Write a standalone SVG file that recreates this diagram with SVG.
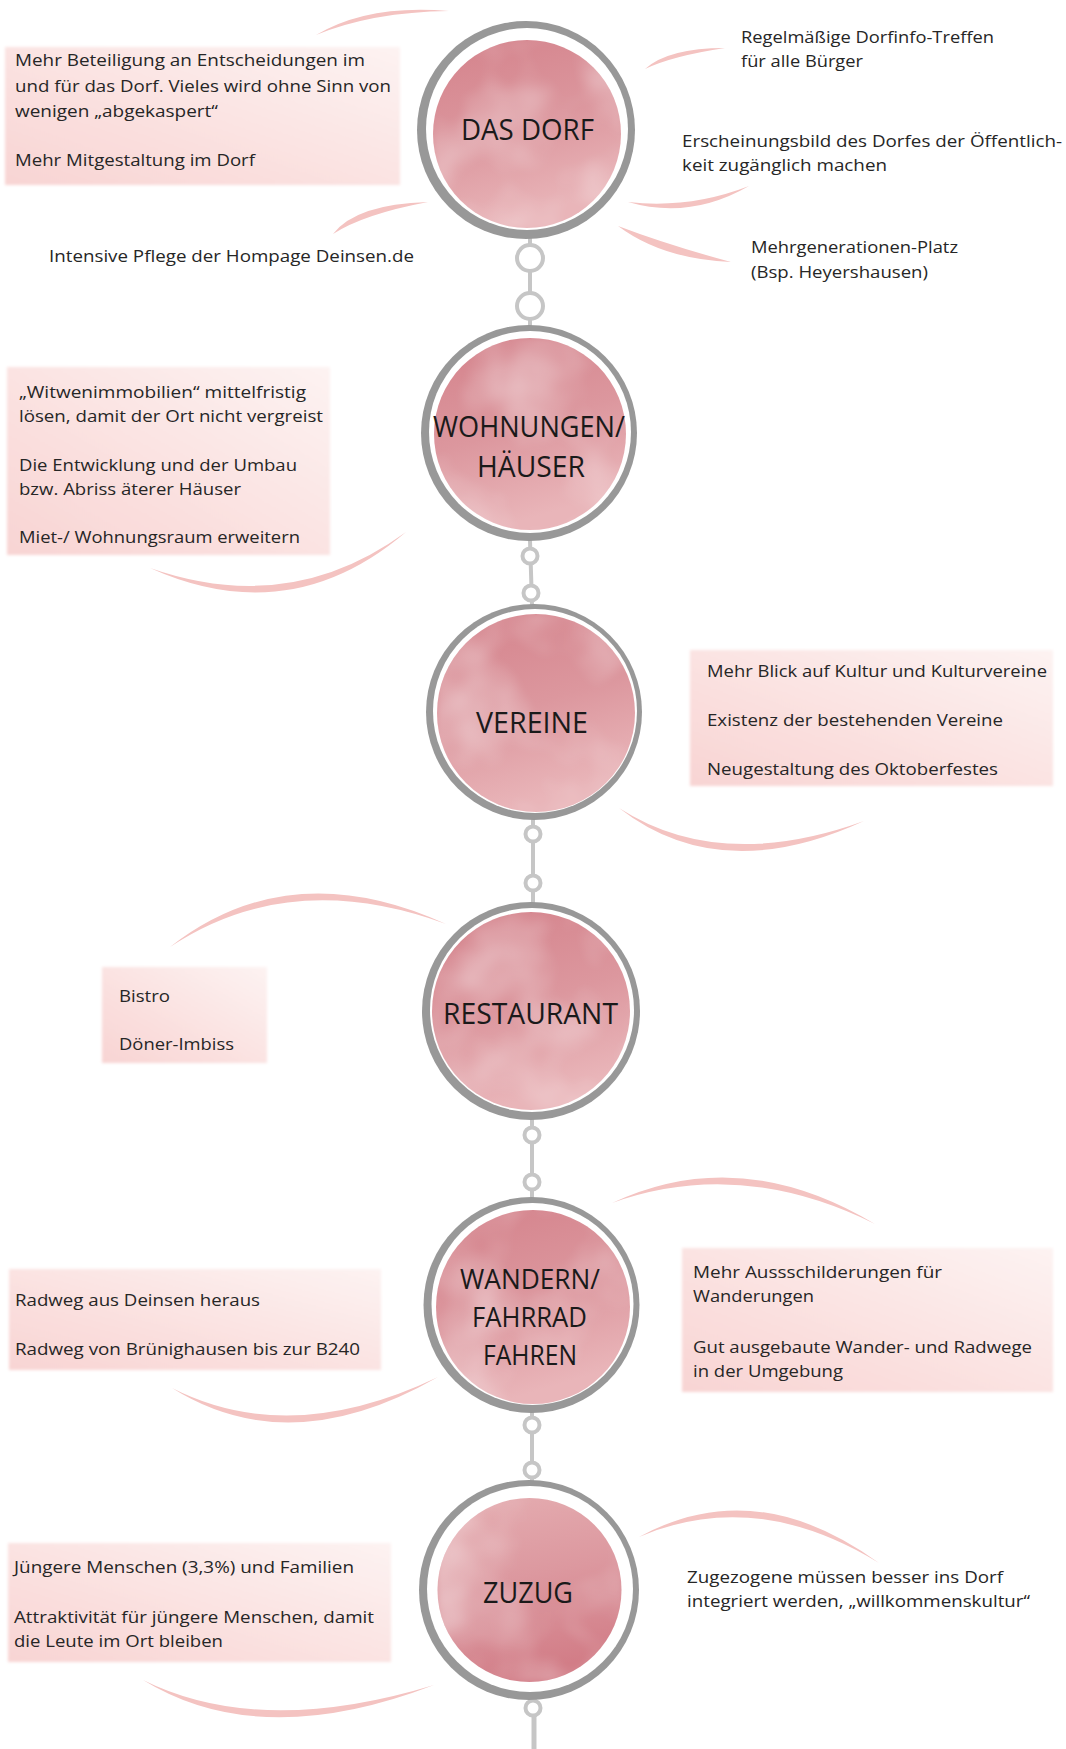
<svg xmlns="http://www.w3.org/2000/svg" width="1066" height="1749" viewBox="0 0 1066 1749">
<defs>
<style>
.b{font-family:"Open Sans","Noto Sans",sans-serif;font-size:17px;fill:#262626}
.t{font-family:"Open Sans","Noto Sans",sans-serif;font-size:29px;font-weight:500;fill:#1a1a1a;text-anchor:middle}
.ring{fill:#989898}
.gap{fill:#ffffff}
.box{filter:url(#soft)}
.chain{stroke:#c6c6c6;stroke-width:4;fill:#ffffff}
.link{stroke:#c6c6c6;stroke-width:4;fill:none}
.swoosh{fill:#f4c3c1}
</style>
<linearGradient id="pinkA" x1="0" y1="0" x2="0.3" y2="1">
<stop offset="0" stop-color="#d4828b"/>
<stop offset="0.55" stop-color="#dc979e"/>
<stop offset="1" stop-color="#e9b5b9"/>
</linearGradient>
<linearGradient id="pinkB" x1="0" y1="0" x2="0.2" y2="1">
<stop offset="0" stop-color="#e5adb1"/>
<stop offset="0.5" stop-color="#dc989f"/>
<stop offset="1" stop-color="#d27d87"/>
</linearGradient>
<linearGradient id="boxg" x1="0" y1="1" x2="1" y2="0">
<stop offset="0" stop-color="#f8d4d3"/>
<stop offset="0.6" stop-color="#fbe6e5"/>
<stop offset="1" stop-color="#fdf3f2"/>
</linearGradient>
<filter id="wc" x="0" y="0" width="1" height="1" color-interpolation-filters="sRGB">
<feTurbulence type="fractalNoise" baseFrequency="0.012" numOctaves="3" seed="4" result="n"/>
<feColorMatrix in="n" type="matrix" values="0 0 0 0 1 0 0 0 0 1 0 0 0 0 1 0.9 0 0 0 -0.38" result="w"/>
<feGaussianBlur in="w" stdDeviation="3" result="wb"/>
<feComposite in="wb" in2="SourceAlpha" operator="in" result="wm"/>
<feMerge><feMergeNode in="SourceGraphic"/><feMergeNode in="wm"/></feMerge>
</filter>
<filter id="soft" x="-5%" y="-5%" width="110%" height="110%">
<feGaussianBlur stdDeviation="1.5"/>
</filter>
</defs>
<rect width="1066" height="1749" fill="#ffffff"/>

<g id="connectors">
<line class="link" x1="530" y1="238" x2="530" y2="326"/>
<circle class="chain" cx="530" cy="258" r="13"/>
<circle class="chain" cx="530" cy="306" r="13"/>
<line class="link" x1="530" y1="540" x2="532" y2="605"/>
<circle class="chain" cx="530" cy="556" r="7.5"/>
<circle class="chain" cx="531" cy="593" r="7.5"/>
<line class="link" x1="533" y1="819" x2="533" y2="903"/>
<circle class="chain" cx="533" cy="834" r="7.5"/>
<circle class="chain" cx="533" cy="883" r="7.5"/>
<line class="link" x1="532" y1="1119" x2="532" y2="1198"/>
<circle class="chain" cx="532" cy="1135" r="7.5"/>
<circle class="chain" cx="532" cy="1182" r="7.5"/>
<line class="link" x1="532" y1="1412" x2="532" y2="1482"/>
<circle class="chain" cx="532" cy="1425" r="7.5"/>
<circle class="chain" cx="532" cy="1470" r="7.5"/>
<line class="link" x1="534" y1="1698" x2="534" y2="1749" style="stroke-width:5"/>
<circle class="chain" cx="533" cy="1708" r="7.5"/>
<path class="swoosh" d="M316,35 Q368,4 449,11 Q372,12 316,35 Z"/>
<path class="swoosh" d="M645,69 Q668,48 725,48 Q672,56 645,69 Z"/>
<path class="swoosh" d="M628,202 Q690,220 749,186 Q690,209 628,202 Z"/>
<path class="swoosh" d="M618,226 Q662,259 731,262 Q668,245 618,226 Z"/>
<path class="swoosh" d="M333,234 Q356,204 428,202 Q364,214 333,234 Z"/>
<path class="swoosh" d="M150,568 Q290,631 406,532 Q290,617 150,568 Z"/>
<path class="swoosh" d="M619,808 Q720,887 864,821 Q720,873 619,808 Z"/>
<path class="swoosh" d="M170,947 Q290,853 446,924 Q290,867 170,947 Z"/>
<path class="swoosh" d="M612,1203 Q740,1143 875,1224 Q740,1157 612,1203 Z"/>
<path class="swoosh" d="M172,1388 Q290,1462 438,1377 Q290,1448 172,1388 Z"/>
<path class="swoosh" d="M639,1537 Q755,1473 879,1563 Q755,1487 639,1537 Z"/>
<path class="swoosh" d="M143,1680 Q260,1752 434,1685 Q260,1738 143,1680 Z"/>
</g>

<g id="node-dorf">
<circle class="ring" cx="526" cy="130" r="109"/>
<circle class="gap" cx="527" cy="129" r="101"/>
<circle cx="527" cy="134" r="94" fill="url(#pinkA)" filter="url(#wc)"/>
<text class="t" x="527.5" y="140" textLength="133" lengthAdjust="spacingAndGlyphs">DAS DORF</text>
</g>

<g id="node-wohnungen">
<circle class="ring" cx="529" cy="433" r="108"/>
<circle class="gap" cx="530" cy="432" r="101"/>
<circle cx="530" cy="434" r="96" fill="url(#pinkA)" filter="url(#wc)"/>
<text class="t" x="529" y="437" textLength="192" lengthAdjust="spacingAndGlyphs">WOHNUNGEN/</text>
<text class="t" x="531" y="477" textLength="108" lengthAdjust="spacingAndGlyphs">HÄUSER</text>
</g>

<g id="node-vereine">
<circle class="ring" cx="534" cy="712" r="108"/>
<circle class="gap" cx="535" cy="711" r="102"/>
<circle cx="536" cy="713" r="99" fill="url(#pinkA)" filter="url(#wc)"/>
<text class="t" x="532" y="733" textLength="112" lengthAdjust="spacingAndGlyphs">VEREINE</text>
</g>

<g id="node-restaurant">
<circle class="ring" cx="531" cy="1011" r="109"/>
<circle class="gap" cx="532" cy="1010" r="102"/>
<circle cx="531" cy="1011" r="99" fill="url(#pinkA)" filter="url(#wc)"/>
<text class="t" x="530.5" y="1024" textLength="175" lengthAdjust="spacingAndGlyphs">RESTAURANT</text>
</g>

<g id="node-wandern">
<circle class="ring" cx="531.5" cy="1305" r="108"/>
<circle class="gap" cx="532.5" cy="1304" r="101"/>
<circle cx="533" cy="1307" r="97" fill="url(#pinkA)" filter="url(#wc)"/>
<text class="t" x="530" y="1289" style="font-size:28px" textLength="140" lengthAdjust="spacingAndGlyphs">WANDERN/</text>
<text class="t" x="529.5" y="1327" style="font-size:28px" textLength="115" lengthAdjust="spacingAndGlyphs">FAHRRAD</text>
<text class="t" x="530" y="1365" style="font-size:28px" textLength="94" lengthAdjust="spacingAndGlyphs">FAHREN</text>
</g>

<g id="node-zuzug">
<circle class="ring" cx="529" cy="1590" r="110"/>
<circle class="gap" cx="530" cy="1589" r="103"/>
<circle cx="529.5" cy="1590" r="92" fill="url(#pinkB)" filter="url(#wc)"/>
<text class="t" x="528" y="1603" textLength="90" lengthAdjust="spacingAndGlyphs">ZUZUG</text>
</g>

<g id="note-dorf-left">
<rect class="box" x="5" y="47" width="395" height="138" fill="url(#boxg)"/>
<text class="b" x="15" y="66" textLength="350" lengthAdjust="spacingAndGlyphs">Mehr Beteiligung an Entscheidungen im</text>
<text class="b" x="15" y="92" textLength="376" lengthAdjust="spacingAndGlyphs">und für das Dorf. Vieles wird ohne Sinn von</text>
<text class="b" x="15" y="117" textLength="203" lengthAdjust="spacingAndGlyphs">wenigen „abgekaspert“</text>
<text class="b" x="15" y="166" textLength="240" lengthAdjust="spacingAndGlyphs">Mehr Mitgestaltung im Dorf</text>
</g>

<g id="note-dorf-homepage">
<text class="b" x="49" y="262" textLength="365" lengthAdjust="spacingAndGlyphs">Intensive Pflege der Hompage Deinsen.de</text>
</g>

<g id="note-dorf-treffen">
<text class="b" x="741" y="43" textLength="253" lengthAdjust="spacingAndGlyphs">Regelmäßige Dorfinfo-Treffen</text>
<text class="b" x="741" y="67" textLength="122" lengthAdjust="spacingAndGlyphs">für alle Bürger</text>
</g>

<g id="note-dorf-erscheinung">
<text class="b" x="682" y="147" textLength="380" lengthAdjust="spacingAndGlyphs">Erscheinungsbild des Dorfes der Öffentlich-</text>
<text class="b" x="682" y="171" textLength="205" lengthAdjust="spacingAndGlyphs">keit zugänglich machen</text>
</g>

<g id="note-dorf-platz">
<text class="b" x="751" y="253" textLength="207" lengthAdjust="spacingAndGlyphs">Mehrgenerationen-Platz</text>
<text class="b" x="751" y="278" textLength="177" lengthAdjust="spacingAndGlyphs">(Bsp. Heyershausen)</text>
</g>

<g id="note-wohnungen">
<rect class="box" x="7" y="367" width="323" height="188" fill="url(#boxg)"/>
<text class="b" x="19" y="398" textLength="287" lengthAdjust="spacingAndGlyphs">„Witwenimmobilien“ mittelfristig</text>
<text class="b" x="19" y="422" textLength="304" lengthAdjust="spacingAndGlyphs">lösen, damit der Ort nicht vergreist</text>
<text class="b" x="19" y="471" textLength="278" lengthAdjust="spacingAndGlyphs">Die Entwicklung und der Umbau</text>
<text class="b" x="19" y="495" textLength="222" lengthAdjust="spacingAndGlyphs">bzw. Abriss äterer Häuser</text>
<text class="b" x="19" y="543" textLength="281" lengthAdjust="spacingAndGlyphs">Miet-/ Wohnungsraum erweitern</text>
</g>

<g id="note-vereine">
<rect class="box" x="690" y="650" width="363" height="136" fill="url(#boxg)"/>
<text class="b" x="707" y="677" textLength="340" lengthAdjust="spacingAndGlyphs">Mehr Blick auf Kultur und Kulturvereine</text>
<text class="b" x="707" y="726" textLength="296" lengthAdjust="spacingAndGlyphs">Existenz der bestehenden Vereine</text>
<text class="b" x="707" y="775" textLength="291" lengthAdjust="spacingAndGlyphs">Neugestaltung des Oktoberfestes</text>
</g>

<g id="note-restaurant">
<rect class="box" x="102" y="967" width="165" height="96" fill="url(#boxg)"/>
<text class="b" x="119" y="1002" textLength="51" lengthAdjust="spacingAndGlyphs">Bistro</text>
<text class="b" x="119" y="1050" textLength="115" lengthAdjust="spacingAndGlyphs">Döner-Imbiss</text>
</g>

<g id="note-wandern-left">
<rect class="box" x="9" y="1269" width="372" height="101" fill="url(#boxg)"/>
<text class="b" x="15" y="1306" textLength="245" lengthAdjust="spacingAndGlyphs">Radweg aus Deinsen heraus</text>
<text class="b" x="15" y="1355" textLength="345" lengthAdjust="spacingAndGlyphs">Radweg von Brünighausen bis zur B240</text>
</g>

<g id="note-wandern-right">
<rect class="box" x="682" y="1248" width="371" height="144" fill="url(#boxg)"/>
<text class="b" x="693" y="1278" textLength="249" lengthAdjust="spacingAndGlyphs">Mehr Aussschilderungen für</text>
<text class="b" x="693" y="1302" textLength="121" lengthAdjust="spacingAndGlyphs">Wanderungen</text>
<text class="b" x="693" y="1353" textLength="339" lengthAdjust="spacingAndGlyphs">Gut ausgebaute Wander- und Radwege</text>
<text class="b" x="693" y="1377" textLength="150" lengthAdjust="spacingAndGlyphs">in der Umgebung</text>
</g>

<g id="note-zuzug-left">
<rect class="box" x="8" y="1543" width="383" height="119" fill="url(#boxg)"/>
<text class="b" x="14" y="1573" textLength="340" lengthAdjust="spacingAndGlyphs">Jüngere Menschen (3,3%) und Familien</text>
<text class="b" x="14" y="1623" textLength="360" lengthAdjust="spacingAndGlyphs">Attraktivität für jüngere Menschen, damit</text>
<text class="b" x="14" y="1647" textLength="209" lengthAdjust="spacingAndGlyphs">die Leute im Ort bleiben</text>
</g>

<g id="note-zuzug-right">
<text class="b" x="687" y="1583" textLength="316" lengthAdjust="spacingAndGlyphs">Zugezogene müssen besser ins Dorf</text>
<text class="b" x="687" y="1607" textLength="343" lengthAdjust="spacingAndGlyphs">integriert werden, „willkommenskultur“</text>
</g>
</svg>
